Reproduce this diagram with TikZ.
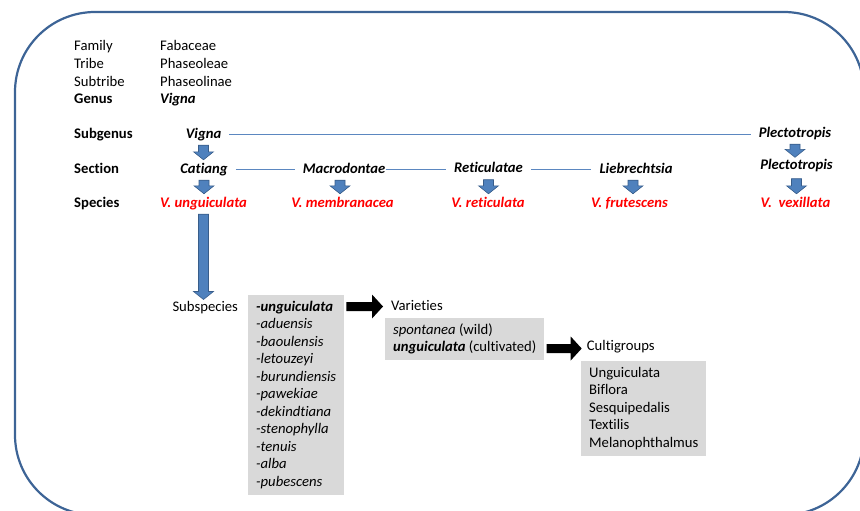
\documentclass[tikz,border=0pt]{standalone}
\usepackage{fontspec}
\setmainfont{Carlito}[Ligatures=CommonOff]
\usetikzlibrary{calc}

\definecolor{framecol}{HTML}{3D6496}
\definecolor{linkcol}{HTML}{5B87C0}
\definecolor{arrowfill}{HTML}{4F81BD}
\definecolor{arrowedge}{HTML}{385D8A}
\definecolor{listgrey}{HTML}{D9D9D9}
\definecolor{specred}{HTML}{FF0000}

\newcommand{\basefont}{\fontsize{14.67}{17.5}\selectfont}

\tikzset{
  rowlabel/.style={anchor=base west, inner sep=0pt},
  ranklabel/.style={rowlabel, font=\basefont\bfseries},
  taxon/.style={anchor=base, inner sep=0pt, text height=10pt, text depth=3pt, font=\basefont\bfseries\itshape},
  species/.style={taxon, text=specred},
  plainlabel/.style={anchor=base west, inner sep=0pt, text height=10pt, text depth=3pt},
  greylist/.style={anchor=north west, fill=listgrey, align=left, inner xsep=8pt, inner ysep=6pt},
  link/.style={draw=linkcol, line width=0.8pt, shorten <=8pt, shorten >=8pt},
  blockarrow/.style={fill=arrowfill, draw=arrowedge, line width=0.6pt},
  blackarrow/.style={fill=black},
  frame/.style={draw=framecol, line width=2.2pt, rounded corners=80pt}
}

% fat arrow pointing down, x taken from the start point
\newcommand{\blockdown}[2]{%
  \path[blockarrow] let \p1=#1, \p2=#2 in
    (\x1-5pt,\y1) -- (\x1+5pt,\y1) -- (\x1+5pt,\y2+8pt) -- (\x1+10pt,\y2+8pt)
    -- (\x1,\y2) -- (\x1-10pt,\y2+8pt) -- (\x1-5pt,\y2+8pt) -- cycle;}
% fat arrow pointing right, y taken from the end point
\newcommand{\blockright}[2]{%
  \path[blackarrow] let \p1=#1, \p2=#2 in
    (\x1,\y2-4.5pt) -- (\x2-11pt,\y2-4.5pt) -- (\x2-11pt,\y2-12pt) -- (\x2,\y2)
    -- (\x2-11pt,\y2+12pt) -- (\x2-11pt,\y2+4.5pt) -- (\x1,\y2+4.5pt) -- cycle;}

\begin{document}
\begin{tikzpicture}[x=1pt, y=-1pt, font=\basefont]
  \useasboundingbox (0,0) rectangle (860,511);
  \draw[frame] (15,12) rectangle (864,515);

  % ranks
  \node[rowlabel] (family) at (74,51) {Family};
  \node[rowlabel] (tribe) at (74,68.5) {Tribe};
  \node[rowlabel] (subtribe) at (74,86) {Subtribe};
  \node[ranklabel] (genus) at (74,103.5) {Genus};
  \node[ranklabel] (subgenus) at (74,138) {Subgenus};
  \node[ranklabel] (section) at (74,173) {Section};
  \node[ranklabel] (speciesrow) at (74,207) {Species};

  \node[rowlabel] (fabaceae) at (160,51) {Fabaceae};
  \node[rowlabel] (phaseoleae) at (160,68.5) {Phaseoleae};
  \node[rowlabel] (phaseolinae) at (160,86) {Phaseolinae};
  \node[rowlabel, font=\basefont\bfseries\itshape] (vigna) at (160,103.5) {Vigna};

  % subgenera and sections
  \node[taxon] (sgvigna) at (203.5,138) {Vigna};
  \node[taxon] (sgplect) at (795,137) {Plectotropis};
  \node[taxon] (catiang) at (204,173) {Catiang};
  \node[taxon] (macro) at (344,173) {Macrodontae};
  \node[taxon] (retic) at (488.5,172.5) {Reticulatae};
  \node[taxon] (lieb) at (636,173) {Liebrechtsia};
  \node[taxon] (splect) at (796.5,169.5) {Plectotropis};

  % species
  \node[species] (vung) at (203.5,207) {V. unguiculata};
  \node[species] (vmem) at (342.5,207) {V. membranacea};
  \node[species] (vret) at (488,207) {V. reticulata};
  \node[species] (vfru) at (629.5,207) {V. frutescens};
  \node[species] (vvex) at (795.5,207) {V.\ \ vexillata};

  \draw[link] (sgvigna.east) -- (sgvigna.east -| sgplect.west);
  \draw[link] (catiang.east) -- (catiang.east -| macro.west);
  \draw[link, shorten <=1pt] (macro.east) -- (macro.east -| retic.west);
  \draw[link] (retic.east) -- (retic.east -| lieb.west);

  \blockdown{([yshift=-4pt]sgvigna.south)}{([yshift=3pt]catiang.north)}
  \blockdown{([yshift=-4pt]catiang.south)}{([yshift=3pt]vung.north)}
  \blockdown{([yshift=-4pt,xshift=-4pt]macro.south)}{([yshift=3pt]vmem.north)}
  \blockdown{([yshift=-4pt]retic.south)}{([yshift=3pt]vret.north)}
  \blockdown{([yshift=-4pt,xshift=-3pt]lieb.south)}{([yshift=3pt]vfru.north)}
  \blockdown{([yshift=-4pt]sgplect.south)}{([yshift=2pt]splect.north)}
  \blockdown{([yshift=-6pt]splect.south)}{([yshift=3pt]vvex.north)}

  % infraspecific ranks
  \node[plainlabel] (subsp) at (172.3,311.7) {Subspecies};
  \blockdown{([yshift=-4pt]vung.south)}{([yshift=2pt]subsp.north)}

  \node[greylist] (ssplist) at (248,295) {%
    \textbf{\textit{-unguiculata}}\\ \textit{-aduensis}\\ \textit{-baoulensis}\\
    \textit{-letouzeyi}\\ \textit{-burundiensis}\\ \textit{-pawekiae}\\
    \textit{-dekindtiana}\\ \textit{-stenophylla}\\ \textit{-tenuis}\\
    \textit{-alba}\\ \textit{-pubescens}};

  \node[plainlabel] (varieties) at (391,310) {Varieties};
  \node[greylist] (varlist) at (385,317.3) {%
    \textit{spontanea} (wild)\\ \textbf{\textit{unguiculata}} (cultivated)};
  \blockright{([xshift=2pt]ssplist.east)}{([xshift=-8pt]varieties.west)}

  \node[plainlabel] (cultigroups) at (586.7,350) {Cultigroups};
  \node[greylist] (cultlist) at (581,361) {%
    Unguiculata\\ Biflora\\ Sesquipedalis\\ Textilis\\ Melanophthalmus};
  \blockright{([xshift=2pt]varlist.east)}{([xshift=-5pt,yshift=-2pt]cultigroups.west)}
\end{tikzpicture}
\end{document}
